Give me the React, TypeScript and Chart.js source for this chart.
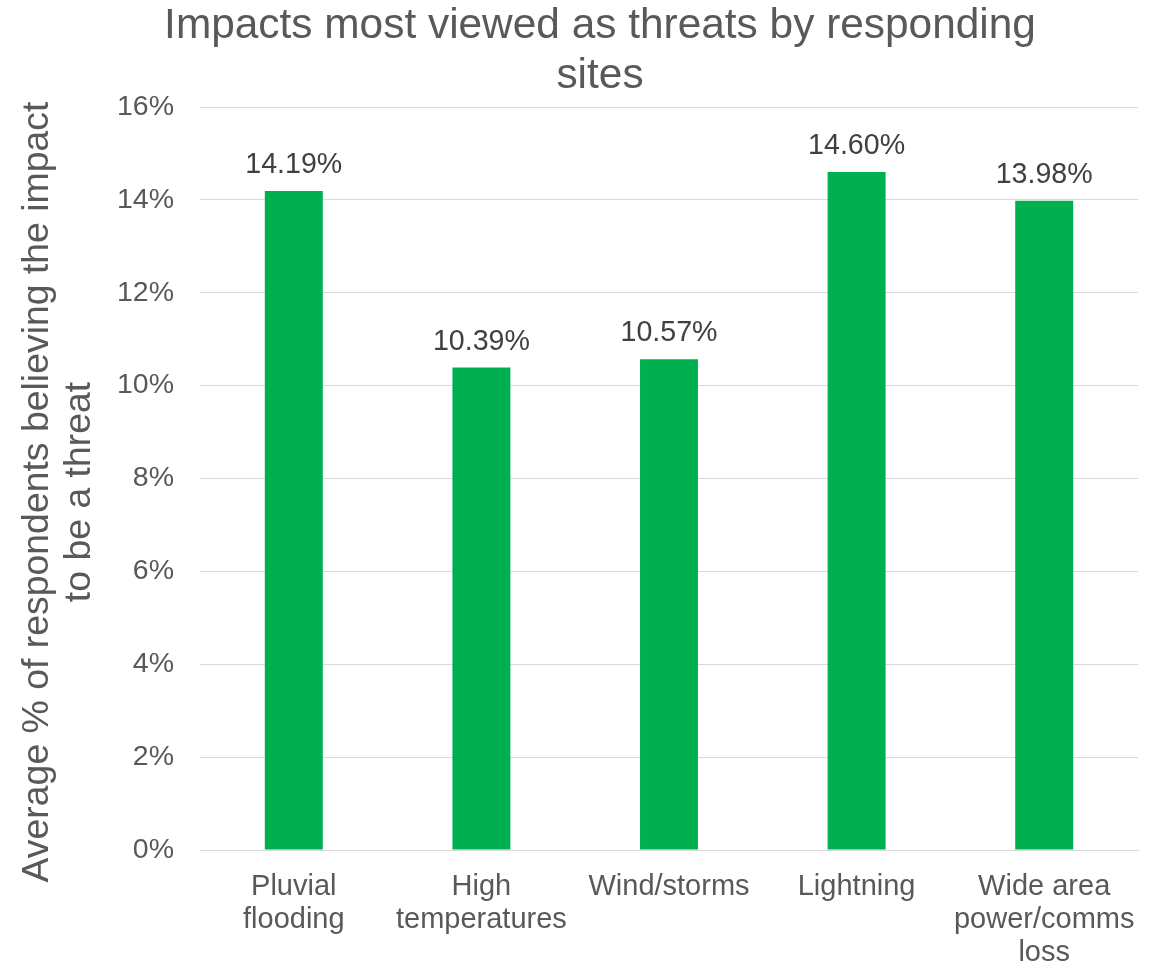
import React, { useEffect, useRef } from "react";
import { Chart, registerables } from "chart.js";

Chart.register(...registerables);

const categories: (string | string[])[] = [
  ["Pluvial", "flooding"],
  ["High", "temperatures"],
  "Wind/storms",
  "Lightning",
  ["Wide area", "power/comms", "loss"],
];
const values: number[] = [14.19, 10.39, 10.57, 14.6, 13.98];
const titleLines: string[] = ["Impacts most viewed as threats by responding", "sites"];
const yTitleLines: string[] = ["Average % of respondents believing the impact", "to be a threat"];

const FONT = "'Liberation Sans', Arial, sans-serif";

const dataLabels = {
  id: "dataLabels",
  afterDatasetsDraw(chart: any) {
    const ctx = chart.ctx;
    const meta = chart.getDatasetMeta(0);
    ctx.save();
    ctx.font = `28.6px ${FONT}`;
    ctx.fillStyle = "#404040";
    ctx.textAlign = "center";
    ctx.textBaseline = "alphabetic";
    meta.data.forEach((bar: any, i: number) => {
      ctx.fillText(values[i].toFixed(2) + "%", bar.x, bar.y - 18);
    });
    ctx.restore();
  },
};

const chartTitles = {
  id: "chartTitles",
  afterDraw(chart: any) {
    const ctx = chart.ctx;
    ctx.save();
    ctx.font = `42.4px ${FONT}`;
    ctx.fillStyle = "#595959";
    ctx.textAlign = "center";
    ctx.textBaseline = "alphabetic";
    titleLines.forEach((line, i) => {
      ctx.fillText(line, 600, 38 + i * 50);
    });
    ctx.restore();

    ctx.save();
    ctx.font = `37.4px ${FONT}`;
    ctx.fillStyle = "#595959";
    ctx.textAlign = "center";
    ctx.textBaseline = "middle";
    ctx.translate(0, 492);
    ctx.rotate(-Math.PI / 2);
    yTitleLines.forEach((line, i) => {
      ctx.fillText(line, 0, 38 + i * 42);
    });
    ctx.restore();
  },
};

export default function App() {
  const ref = useRef<HTMLCanvasElement>(null);
  useEffect(() => {
    document.body.style.margin = "0";
    const chart = new Chart(ref.current!, {
      type: "bar",
      data: {
        labels: categories,
        datasets: [
          {
            data: values,
            backgroundColor: "#00B050",
            categoryPercentage: 1,
            barPercentage: 0.309,
          },
        ],
      },
      plugins: [dataLabels, chartTitles],
      options: {
        animation: false,
        responsive: false,
        devicePixelRatio: 1,
        layout: { padding: { left: 0, right: 22, top: 107, bottom: 0 } },
        plugins: {
          legend: { display: false },
          tooltip: { enabled: false },
          title: { display: false },
        },
        scales: {
          x: {
            grid: { display: false, drawTicks: false },
            border: { display: true, color: "#D9D9D9", width: 1 },
            ticks: {
              color: "#595959",
              font: { family: FONT, size: 29, lineHeight: 1.138 },
              padding: 20,
              maxRotation: 0,
              autoSkip: false,
            },
            afterFit: (s: any) => {
              s.height = 114;
            },
          },
          y: {
            min: 0,
            max: 16,
            grid: { color: "#D9D9D9", drawTicks: false, lineWidth: 1 },
            border: { display: false },
            ticks: {
              stepSize: 2,
              color: "#595959",
              font: { family: FONT, size: 28.5 },
              padding: 26,
              callback: (v: any) => v + "%",
            },
            title: { display: false },
            afterFit: (s: any) => {
              s.width = 200;
            },
          },
        },
      },
    });
    return () => chart.destroy();
  }, []);
  return (
    <div style={{ width: 1160, height: 964 }}>
      <canvas ref={ref} width={1160} height={964} />
    </div>
  );
}
